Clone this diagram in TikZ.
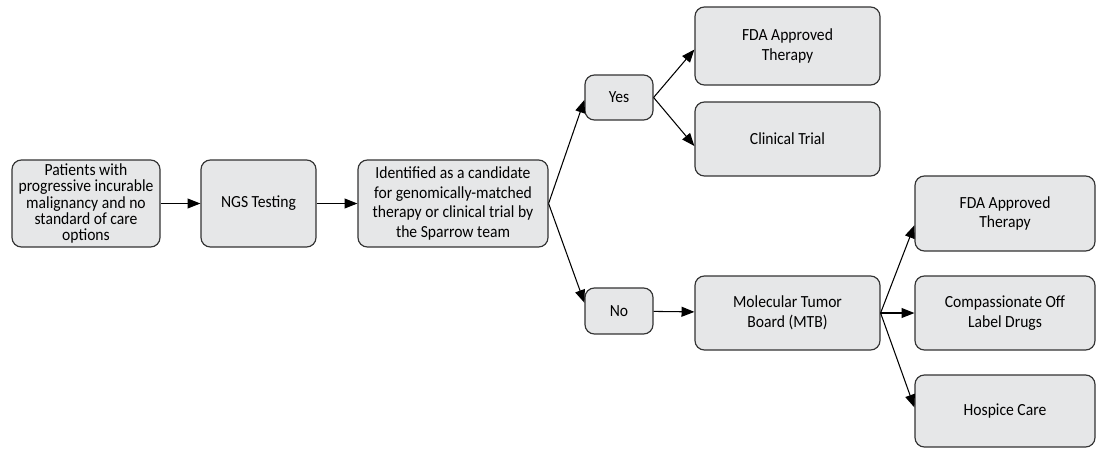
\documentclass[tikz,border=0pt]{standalone}
\usepackage{fontspec}
\setmainfont{Carlito}[FakeStretch=0.92]
\usepackage[HTML]{xcolor}
\usetikzlibrary{positioning, arrows.meta}

\definecolor{boxfill}{HTML}{E6E7E8}
\definecolor{boxline}{HTML}{333333}

\begin{document}
\begin{tikzpicture}[x=0.03cm, y=-0.03cm,
  box/.style={draw=boxline, fill=boxfill, line width=1pt, rounded corners=8pt,
    align=center, inner sep=0pt, font=\fontsize{14.5}{17}\selectfont},
  tight/.style={font=\fontsize{14.5}{14}\selectfont},
  sz/.style 2 args={minimum width=#1*0.03cm, minimum height=#2*0.03cm},
  arr/.style={line width=0.9pt, -{Triangle[length=11pt, width=8.5pt]}}]
\useasboundingbox (0,0) rectangle (1097,449);

% Main line
\node[box, tight, sz={148}{87}] (P) at (86,203.5)
  {Patients with\\progressive incurable\\malignancy and no\\standard of care\\options};
\node[box, sz={115}{87}] (N) at (258.5,203.5) {NGS Testing};
\node[box, sz={190}{87}] (I) at (453,203.5)
  {Identified as a candidate\\for genomically-matched\\therapy or clinical trial by\\the Sparrow team};

% Decision
\node[box, sz={68}{45}] (Y) at (619,97.5) {Yes};
\node[box, sz={68}{46}] (No) at (619,311) {No};

% Yes branch
\node[box, sz={185}{78}] (F1) at (787.5,46) {FDA Approved\\Therapy};
\node[box, sz={185}{74}] (C) at (787.5,139) {Clinical Trial};

% No branch
\node[box, sz={185}{74}] (M) at (787.5,313) {Molecular Tumor\\Board (MTB)};
\node[box, sz={180}{75}] (F2) at (1005,213.5) {FDA Approved\\Therapy};
\node[box, sz={180}{74}] (CO) at (1005,313) {Compassionate Off\\Label Drugs};
\node[box, sz={180}{72}] (H) at (1005,411) {Hospice Care};

\draw[arr] (P) -- (N);
\draw[arr] (N) -- (I);
\draw[arr] (I.east) -- ([yshift=-2pt]Y.west);
\draw[arr] (I.east) -- ([yshift=7pt]No.west);
\draw[arr] (Y.east) -- ([yshift=-3pt]F1.west);
\draw[arr] (Y.east) -- ([yshift=-6pt]C.west);
\draw[arr] (No) -- (M);
\foreach \t/\s in {F2/-10pt, CO/0pt, H/3pt}{
  \draw[arr] (M.east) -- ([yshift=\s]\t.west);
}
\end{tikzpicture}
\end{document}
